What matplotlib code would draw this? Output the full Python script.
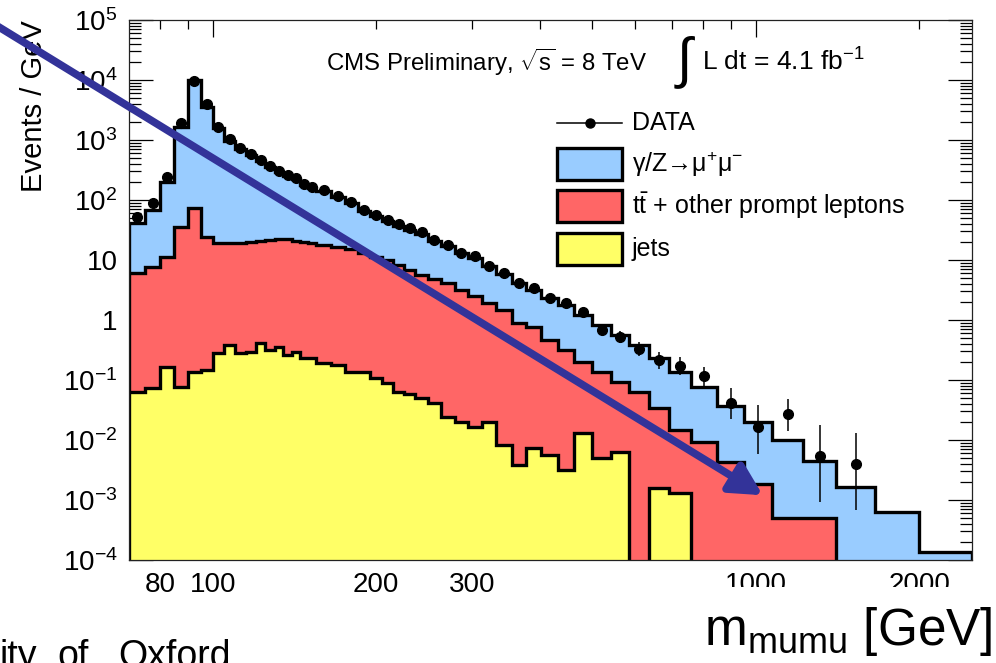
import numpy as np
import matplotlib
matplotlib.use("Agg")
import matplotlib.pyplot as plt
from matplotlib.patches import Rectangle, ConnectionPatch
from matplotlib.lines import Line2D
from matplotlib.transforms import Affine2D
from matplotlib.ticker import FixedLocator, FixedFormatter

plt.rcParams['font.family'] = ['Liberation Sans', 'DejaVu Sans']
plt.rcParams['mathtext.fontset'] = 'custom'
plt.rcParams['mathtext.rm'] = 'Liberation Sans'
plt.rcParams['mathtext.it'] = 'Liberation Sans:italic'
plt.rcParams['mathtext.bf'] = 'Liberation Sans:bold'

# ---- binning in dimuon mass [GeV] ----
mass_edges = [70, 75, 80, 85, 90, 95, 100, 105, 110, 115, 120, 125, 130, 135,
              140, 145, 150, 155, 165, 175, 185, 195, 205, 215, 225, 236, 249,
              263, 279, 295, 313, 333, 355, 378, 403, 432, 463, 500, 541, 584,
              636, 692, 760, 848, 950, 1070, 1220, 1403, 1655, 2000, 2500]

# ---- observed events / GeV ----
data_density = [52, 89, 242, 1920, 9620, 3980, 1647, 1039, 735, 584, 464, 368,
                304, 261, 233, 185, 165, 147, 117, 92.6, 68, 56, 46, 40, 34, 29,
                21.5, 17.8, 13.1, 11.7, 7.9, 6.07, 4.14, 3.41, 2.33, 1.92, 1.36,
                0.681, 0.521, 0.329, 0.215, 0.171, 0.1166, 0.0414, 0.0165,
                0.0271, 0.00546, 0.00397, 0, 0]

# ---- stacked expectation, events / GeV (top of each stacked layer) ----
stack_top_dy = [41, 68, 200, 1647, 10000, 3548, 1585, 980, 700, 560, 445, 355,
                292, 250, 222, 180, 160, 142, 112, 88, 66, 54, 44, 37, 32, 27,
                21, 17, 13, 10.8, 7.8, 5.9, 4.2, 3.2, 2.3, 1.75, 1.21, 0.825,
                0.562, 0.383, 0.233, 0.136, 0.0764, 0.0369, 0.02, 0.01, 0.00447,
                0.00165, 6.3e-4, 1.36e-4]
stack_top_ttbar = [6.07, 7.6, 11.2, 35.5, 73.6, 24, 19.2, 19.2, 19.2, 20, 20.9,
                   21.5, 22.4, 22.4, 20.9, 20, 19.2, 17.8, 16.5, 15.3, 13.1, 11.2,
                   10, 8.25, 6.8, 5.6, 4.8, 4.1, 3.16, 2.5, 1.92, 1.47, 0.89,
                   0.76, 0.46, 0.316, 0.2, 0.136, 0.0928, 0.0631, 0.0341, 0.0147,
                   0.0093, 0.00422, 0.00183, 5.1e-4, 5.1e-4, 0, 0, 0]
stack_top_jets = [0.063, 0.0736, 0.165, 0.0764, 0.136, 0.147, 0.282, 0.383,
                  0.282, 0.293, 0.414, 0.316, 0.355, 0.261, 0.293, 0.233, 0.233,
                  0.192, 0.178, 0.136, 0.136, 0.108, 0.089, 0.063, 0.058, 0.05,
                  0.041, 0.0242, 0.02, 0.0165, 0.02, 0.00826, 0.00383, 0.00736,
                  0.00562, 0.00316, 0.0131, 0.005, 0.0063, 0, 0.00158, 0.00131,
                  0, 0, 0, 0, 0, 0, 0, 0]

legend_labels = ['DATA', '\u03b3/Z\u2192\u03bc$\\mathregular{^{+}}$\u03bc$\\mathregular{^{-}}$',
                 r'$\mathregular{t\bar{t}}$ + other prompt leptons', 'jets']
fill_colors = ['#99ccff', '#ff6666', '#ffff66']

xtick_major = [100, 1000]
xtick_major_labels = ['100', '1000']
xtick_minor = [80, 90, 200, 300, 400, 500, 600, 700, 800, 900, 2000]
xtick_minor_labels = ['80', '', '200', '300', '', '', '', '', '', '', '2000']
ytick_vals = [1e-4, 1e-3, 1e-2, 1e-1, 1, 10, 1e2, 1e3, 1e4, 1e5]
ytick_labels = [r'$\mathregular{10^{-4}}$', r'$\mathregular{10^{-3}}$',
                r'$\mathregular{10^{-2}}$', r'$\mathregular{10^{-1}}$', '1', '10',
                r'$\mathregular{10^{2}}$', r'$\mathregular{10^{3}}$',
                r'$\mathregular{10^{4}}$', r'$\mathregular{10^{5}}$']

W, H = 996, 663
fig = plt.figure(figsize=(W / 100, H / 100), dpi=100)
# pixel coordinates with origin at the top-left of the canvas
px = Affine2D().scale(1 / W, -1 / H).translate(0, 1) + fig.transFigure

ax = fig.add_axes([128.5 / W, 1 - 560 / H, (972 - 128.5) / W, 540 / H])
ax.set_xscale('log')
ax.set_yscale('log')
ax.set_xlim(70, 2500)
ax.set_ylim(1e-4, 1e5)

edges = np.array(mass_edges, dtype=float)
floor = 1e-7


def draw_layer(values, color):
    v = np.asarray(values, dtype=float)
    v = np.where(v > 0, v, floor)
    st = ax.stairs(v, edges, baseline=floor, fill=True, facecolor=color,
                   edgecolor='black', linewidth=2.4, zorder=2)
    st.set_joinstyle('miter')


draw_layer(stack_top_dy, fill_colors[0])
draw_layer(stack_top_ttbar, fill_colors[1])
draw_layer(stack_top_jets, fill_colors[2])

# data points with Poisson (Garwood-like) intervals
dens = np.array(data_density, dtype=float)
widths = np.diff(edges)
centers = 0.5 * (edges[:-1] + edges[1:])
n = dens * widths
ok = n > 0
nn = n[ok]
lo = nn - nn * (1 - 1 / (9 * nn) - 1 / (3 * np.sqrt(nn))) ** 3
n1 = nn + 1
hi = n1 * (1 - 1 / (9 * n1) + 1 / (3 * np.sqrt(n1))) ** 3 - nn
ax.errorbar(centers[ok], dens[ok], yerr=[lo / widths[ok], hi / widths[ok]],
            fmt='o', color='black', ms=7, elinewidth=1.1, capsize=0, zorder=4)

# axes styling
ax.xaxis.set_major_locator(FixedLocator(xtick_major))
ax.xaxis.set_major_formatter(FixedFormatter(xtick_major_labels))
ax.xaxis.set_minor_locator(FixedLocator(xtick_minor))
ax.xaxis.set_minor_formatter(FixedFormatter(xtick_minor_labels))
ax.yaxis.set_major_locator(FixedLocator(ytick_vals))
ax.yaxis.set_major_formatter(FixedFormatter(ytick_labels))
ax.yaxis.set_minor_locator(FixedLocator(
    [m * 10.0 ** e for e in range(-4, 5) for m in range(2, 10)]))
ax.tick_params(which='both', direction='in', top=True, right=True,
               color='black', width=0.9, labelsize=20)
ax.tick_params(axis='x', which='major', length=12, pad=9)
ax.tick_params(axis='x', which='minor', length=6.5, pad=9)
ax.tick_params(axis='y', which='major', length=17, pad=8)
ax.tick_params(axis='y', which='minor', length=8.5)
for s in ax.spines.values():
    s.set_linewidth(0.9)
    s.set_color('#222222')
    s.set_zorder(3)

# header
fig.text(326, 62, r'CMS Preliminary, $\mathregular{\sqrt{s}}$ = 8 TeV',
         transform=px, fontsize=17.3, ha='left', va='center')
fig.text(684, 62, '\u222b', transform=px, fontsize=40, ha='center', va='center')
fig.text(702, 62, r'L dt = 4.1 fb$\mathregular{^{-1}}$', transform=px,
         fontsize=19, ha='left', va='center')

# legend
fig.add_artist(Line2D([557, 622], [123, 123], transform=px, color='black',
                      lw=1.1, marker=None))
fig.add_artist(Line2D([590], [123], transform=px, color='black', marker='o',
                      ms=6.5, ls='none'))
fig.text(632, 123, legend_labels[0], transform=px, fontsize=18, va='center')
for i, (yc, col) in enumerate(zip([164, 206, 249], fill_colors)):
    fig.add_artist(Rectangle((557, yc - 16), 65, 32, transform=px,
                             facecolor=col, edgecolor='black', lw=2.4))
    fig.text(632, yc, legend_labels[i + 1], transform=px, fontsize=18,
             va='center')

# axis titles
fig.text(34, 20, 'Events / GeV', transform=px, rotation=90, fontsize=21,
         ha='center', va='top')
fig.add_artist(Rectangle((690, 587), 310, 80, transform=px, facecolor='white',
                         edgecolor='none', zorder=5))
fig.text(993, 645, r'$\mathregular{m_{mumu}}$ [GeV]', transform=px,
         fontsize=37, ha='right', va='baseline', zorder=6)

# footer
for word, xw in [('ity', -1), ('of', 57), ('Oxford', 118)]:
    fig.text(xw, 667, word, transform=px, fontsize=27, ha='left',
             va='baseline')

# highlight arrow toward the high-mass top-pair region
arrow = ConnectionPatch(xyA=(-6, 24), coordsA=px, xyB=(1030, 1.2e-3),
                        coordsB=ax.transData,
                        arrowstyle='-|>,head_length=0.95,head_width=0.5',
                        mutation_scale=20, lw=5.5, color='#333399',
                        shrinkA=0, shrinkB=0, zorder=8)
fig.add_artist(arrow)

fig.savefig('out.png', dpi=100)
